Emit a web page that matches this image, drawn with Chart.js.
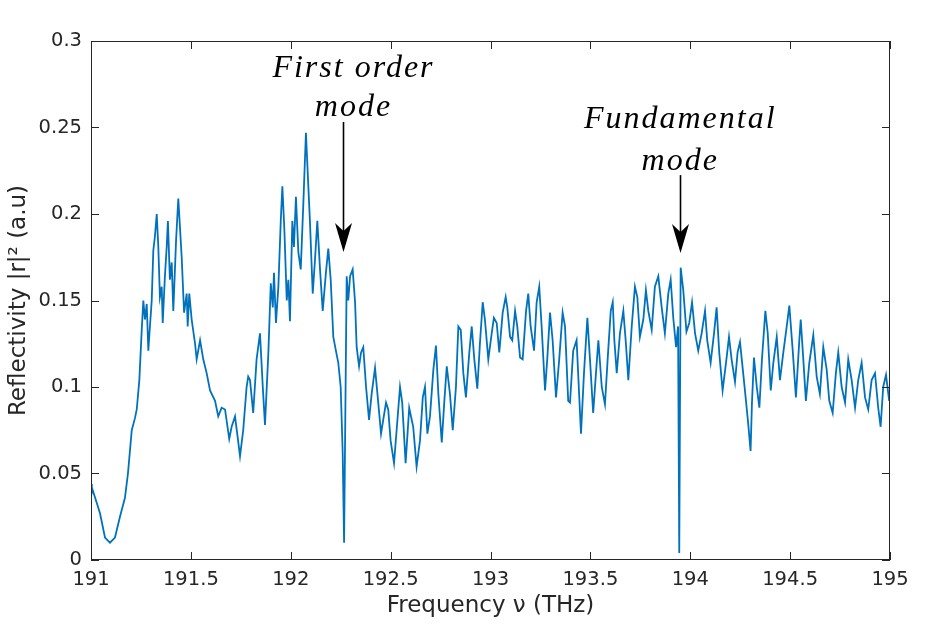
<!DOCTYPE html>
<html>
<head>
<meta charset="utf-8">
<script src="https://cdn.jsdelivr.net/npm/chart.js@4.4.0/dist/chart.umd.min.js"></script>
<style>
  html, body { margin: 0; padding: 0; background: #fff; }
</style>
</head>
<body>
<canvas id="spectrum" width="938" height="641"></canvas>
<script>
// frequency (THz)
const freq = [191.000,191.004,191.029,191.045,191.070,191.095,191.120,191.145,191.170,191.185,191.204,191.220,191.229,191.242,191.254,191.262,191.270,191.279,191.287,191.295,
  191.304,191.312,191.320,191.329,191.337,191.345,191.354,191.359,191.370,191.379,191.385,191.395,191.404,191.412,191.426,191.437,191.446,191.454,191.466,191.479,
  191.484,191.492,191.504,191.521,191.529,191.546,191.562,191.579,191.596,191.621,191.637,191.654,191.671,191.692,191.704,191.721,191.732,191.746,191.762,191.779,
  191.787,191.796,191.812,191.829,191.846,191.860,191.871,191.888,191.900,191.910,191.916,191.926,191.938,191.950,191.958,191.968,191.980,191.988,191.996,192.008,
  192.016,192.026,192.038,192.050,192.063,192.076,192.088,192.096,192.110,192.121,192.133,192.146,192.160,192.176,192.188,192.200,192.213,192.226,192.238,192.250,
  192.260,192.267,192.273,192.280,192.288,192.297,192.310,192.322,192.330,192.342,192.352,192.363,192.377,192.392,192.405,192.422,192.438,192.452,192.463,192.477,
  192.488,192.500,192.517,192.530,192.547,192.558,192.575,192.593,192.613,192.630,192.647,192.661,192.672,192.684,192.697,192.714,192.727,192.739,192.756,192.769,
  192.781,192.797,192.811,192.827,192.839,192.851,192.864,192.877,192.894,192.906,192.919,192.934,192.947,192.961,192.972,192.989,193.006,193.017,193.031,193.044,
  193.061,193.076,193.084,193.098,193.109,193.123,193.134,193.148,193.161,193.178,193.189,193.201,193.218,193.231,193.244,193.256,193.273,193.284,193.298,193.311,
  193.328,193.344,193.361,193.373,193.389,193.398,193.414,193.431,193.453,193.468,193.485,193.498,193.514,193.528,193.540,193.557,193.573,193.587,193.602,193.612,
  193.620,193.632,193.648,193.665,193.678,193.690,193.707,193.723,193.735,193.748,193.765,193.778,193.790,193.807,193.823,193.840,193.857,193.873,193.890,193.902,
  193.915,193.929,193.939,193.945,193.952,193.965,193.981,193.995,194.009,194.024,194.040,194.057,194.074,194.085,194.102,194.119,194.132,194.145,194.162,194.179,
  194.194,194.207,194.224,194.237,194.249,194.265,194.279,194.290,194.302,194.309,194.319,194.333,194.346,194.359,194.376,194.388,194.403,194.416,194.433,194.449,
  194.466,194.483,194.496,194.513,194.529,194.546,194.553,194.566,194.579,194.596,194.616,194.633,194.649,194.666,194.683,194.696,194.713,194.729,194.741,194.758,
  194.775,194.791,194.808,194.825,194.841,194.858,194.875,194.891,194.908,194.925,194.941,194.953,194.966,194.980,194.996,195.000];

// reflectivity |r|^2 at each frequency
const refl = [0.044,0.042,0.033,0.027,0.013,0.010,0.013,0.025,0.036,0.050,0.075,0.082,0.087,0.104,0.133,0.150,0.139,0.148,0.121,0.135,
  0.150,0.179,0.187,0.200,0.181,0.152,0.158,0.137,0.164,0.181,0.196,0.162,0.172,0.144,0.185,0.209,0.191,0.175,0.143,0.154,
  0.135,0.154,0.139,0.125,0.116,0.127,0.116,0.108,0.098,0.092,0.083,0.088,0.087,0.070,0.077,0.083,0.073,0.060,0.075,0.100,
  0.106,0.104,0.085,0.116,0.131,0.100,0.078,0.120,0.160,0.146,0.166,0.137,0.158,0.196,0.216,0.191,0.150,0.162,0.138,0.196,
  0.181,0.210,0.178,0.168,0.206,0.247,0.216,0.196,0.154,0.173,0.196,0.169,0.144,0.166,0.180,0.162,0.129,0.121,0.114,0.100,
  0.062,0.010,0.081,0.164,0.150,0.164,0.168,0.149,0.123,0.112,0.120,0.123,0.100,0.081,0.096,0.111,0.091,0.073,0.081,0.091,
  0.087,0.069,0.056,0.075,0.100,0.091,0.056,0.088,0.077,0.054,0.069,0.094,0.100,0.073,0.083,0.110,0.124,0.096,0.068,0.092,
  0.112,0.096,0.075,0.100,0.135,0.133,0.108,0.094,0.120,0.135,0.116,0.099,0.125,0.149,0.139,0.116,0.131,0.140,0.137,0.120,
  0.143,0.152,0.146,0.129,0.127,0.144,0.135,0.117,0.116,0.144,0.154,0.135,0.121,0.149,0.158,0.135,0.098,0.116,0.143,0.127,
  0.094,0.116,0.143,0.135,0.092,0.091,0.121,0.127,0.073,0.108,0.140,0.116,0.085,0.108,0.127,0.100,0.090,0.117,0.144,0.149,
  0.127,0.108,0.131,0.144,0.125,0.104,0.135,0.158,0.152,0.129,0.139,0.156,0.144,0.133,0.158,0.164,0.146,0.131,0.154,0.162,
  0.140,0.123,0.135,0.004,0.169,0.156,0.132,0.137,0.149,0.131,0.121,0.131,0.144,0.127,0.114,0.131,0.146,0.120,0.098,0.114,
  0.129,0.116,0.103,0.120,0.126,0.108,0.092,0.079,0.063,0.091,0.117,0.100,0.088,0.116,0.144,0.131,0.098,0.114,0.129,0.104,
  0.120,0.135,0.147,0.121,0.094,0.127,0.139,0.116,0.092,0.114,0.130,0.106,0.096,0.123,0.110,0.092,0.085,0.108,0.120,0.100,
  0.091,0.116,0.104,0.088,0.104,0.114,0.094,0.087,0.104,0.108,0.088,0.077,0.100,0.107,0.092,0.099];

const xTicks = [191, 191.5, 192, 192.5, 193, 193.5, 194, 194.5, 195];
const xTickLabels = ["191", "191.5", "192", "192.5", "193", "193.5", "194", "194.5", "195"];
const yTicks = [0, 0.05, 0.1, 0.15, 0.2, 0.25, 0.3];
const yTickLabels = ["0", "0.05", "0.1", "0.15", "0.2", "0.25", "0.3"];

const noteText = [["First order", "mode"], ["Fundamental", "mode"]];

// where the notes sit, in data units
const notePos = [
  { textX: 192.314, lineY: [0.2792, 0.2566], arrowX: 192.260, arrowTop: 0.2532, arrowTip: 0.178 },
  { textX: 193.950, lineY: [0.2497, 0.2254], arrowX: 193.947, arrowTop: 0.2225, arrowTip: 0.1775 }
];

const axisColor = "#262626";

// box round the axes with inward ticks, matlab style
const framePlugin = {
  id: "frame",
  afterDatasetsDraw(chart) {
    const { ctx, chartArea: a, scales } = chart;
    const tl = 8;
    ctx.save();
    ctx.strokeStyle = axisColor;
    ctx.lineWidth = 1;
    ctx.strokeRect(a.left + 0.5, a.top + 0.5, a.right - a.left - 1, a.bottom - a.top - 1);
    ctx.beginPath();
    scales.x.ticks.forEach((t) => {
      const px = Math.round(scales.x.getPixelForValue(t.value)) + 0.5;
      ctx.moveTo(px, a.bottom); ctx.lineTo(px, a.bottom - tl);
      ctx.moveTo(px, a.top); ctx.lineTo(px, a.top + tl);
    });
    scales.y.ticks.forEach((t) => {
      const py = Math.round(scales.y.getPixelForValue(t.value)) + 0.5;
      ctx.moveTo(a.left, py); ctx.lineTo(a.left + tl, py);
      ctx.moveTo(a.right, py); ctx.lineTo(a.right - tl, py);
    });
    ctx.stroke();
    ctx.restore();
  }
};

const notesPlugin = {
  id: "notes",
  afterDraw(chart) {
    const { ctx, scales } = chart;
    const xs = scales.x, ys = scales.y;
    ctx.save();
    ctx.fillStyle = "#000";
    ctx.strokeStyle = "#000";
    ctx.font = "italic 32px 'Liberation Serif'";
    ctx.textAlign = "center";
    ctx.textBaseline = "alphabetic";
    ctx.letterSpacing = "2px";
    notePos.forEach((n, i) => {
      const tx = xs.getPixelForValue(n.textX);
      noteText[i].forEach((line, j) => {
        ctx.fillText(line, tx, ys.getPixelForValue(n.lineY[j]));
      });
      const ax = Math.round(xs.getPixelForValue(n.arrowX)) + 0.5;
      const top = ys.getPixelForValue(n.arrowTop);
      const tip = ys.getPixelForValue(n.arrowTip);
      ctx.lineWidth = 1.6;
      ctx.beginPath();
      ctx.moveTo(ax, top);
      ctx.lineTo(ax, tip - 20);
      ctx.stroke();
      ctx.beginPath();
      ctx.moveTo(ax, tip);
      ctx.lineTo(ax - 8.5, tip - 29);
      ctx.lineTo(ax, tip - 21);
      ctx.lineTo(ax + 8.5, tip - 29);
      ctx.closePath();
      ctx.fill();
    });
    ctx.restore();
  }
};

const tickFont = { family: "'DejaVu Sans'", size: 19.5 };
const titleFont = { family: "'DejaVu Sans'", size: 23 };

new Chart(document.getElementById("spectrum"), {
  type: "line",
  data: {
    datasets: [{
      data: freq.map((f, i) => ({ x: f, y: refl[i] })),
      borderColor: "#0072BD",
      borderWidth: 1.8,
      pointRadius: 0,
      tension: 0,
      fill: false
    }]
  },
  options: {
    responsive: false,
    animation: false,
    events: [],
    layout: { padding: { left: 0, top: 41, right: 48, bottom: 0 } },
    plugins: { legend: { display: false }, tooltip: { enabled: false } },
    scales: {
      x: {
        type: "linear",
        min: 191,
        max: 195,
        afterBuildTicks: (s) => { s.ticks = xTicks.map((v) => ({ value: v })); },
        afterFit: (s) => { s.height = 81; },
        grid: { display: false, drawTicks: false },
        border: { display: false },
        ticks: {
          color: axisColor,
          font: tickFont,
          padding: 8,
          maxRotation: 0,
          autoSkip: false,
          callback: (v, i) => xTickLabels[i]
        },
        title: {
          display: true,
          text: "Frequency \u03bd (THz)",
          color: axisColor,
          font: titleFont,
          padding: { top: 0, bottom: 21 }
        }
      },
      y: {
        type: "linear",
        min: 0,
        max: 0.3,
        afterBuildTicks: (s) => { s.ticks = yTicks.map((v) => ({ value: v })); },
        afterFit: (s) => { s.width = 91; },
        grid: { display: false, drawTicks: false },
        border: { display: false },
        ticks: {
          color: axisColor,
          font: tickFont,
          padding: 9,
          autoSkip: false,
          callback: (v, i) => yTickLabels[i]
        },
        title: {
          display: true,
          text: "Reflectivity |r|\u00b2 (a.u)",
          color: axisColor,
          font: titleFont,
          padding: { top: 5, bottom: 0 }
        }
      }
    }
  },
  plugins: [framePlugin, notesPlugin]
});
</script>
</body>
</html>
